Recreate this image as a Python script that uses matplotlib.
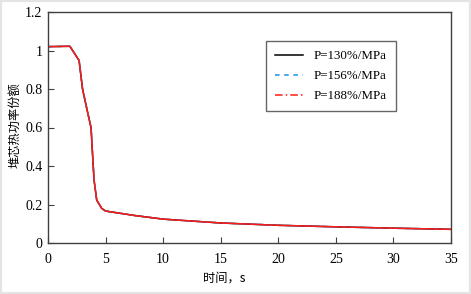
import matplotlib
matplotlib.use("Agg")
import matplotlib.pyplot as plt
from matplotlib.patches import Rectangle
from matplotlib.lines import Line2D

# Data (the three curves nearly coincide)
t = [0, 1.9, 2.7, 3.0, 3.4, 3.74, 3.85, 4.0, 4.23, 4.66, 5.0, 7.5, 10, 15, 20, 25, 30, 35]
p130 = [1.02, 1.022, 0.948, 0.80, 0.69, 0.599, 0.48, 0.327, 0.223, 0.180, 0.166, 0.143, 0.124, 0.104, 0.092, 0.084, 0.077, 0.071]
p156 = [1.02, 1.022, 0.948, 0.80, 0.69, 0.599, 0.48, 0.327, 0.223, 0.180, 0.166, 0.143, 0.124, 0.104, 0.092, 0.084, 0.077, 0.071]
p188 = [1.02, 1.022, 0.948, 0.80, 0.69, 0.599, 0.48, 0.327, 0.223, 0.180, 0.166, 0.143, 0.124, 0.104, 0.092, 0.084, 0.077, 0.071]
labels = ["P=130%/MPa", "P=156%/MPa", "P=188%/MPa"]
xticks = [0, 5, 10, 15, 20, 25, 30, 35]
yticks = [0, 0.2, 0.4, 0.6, 0.8, 1.0, 1.2]
yticklabels = ["0", "0.2", "0.4", "0.6", "0.8", "1", "1.2"]

serif = ["Liberation Serif", "DejaVu Serif"]
cjk = ["Noto Sans CJK SC", "DejaVu Sans"]

fig = plt.figure(figsize=(4.71, 2.94), dpi=100)
fig.patches.append(Rectangle((0, 0), 1, 1, transform=fig.transFigure, fill=False,
                             edgecolor="#e4e4e4", linewidth=3, zorder=10))
ax = fig.add_axes([48/471, 1 - 243/294, (451 - 48)/471, (243 - 12)/294])

ax.plot(t, p130, color="black", linewidth=1.1, linestyle="-", label=labels[0])
ax.plot(t, p156, color="#1f8fe0", linewidth=1.1, linestyle=(0, (3, 3)), label=labels[1])
ax.plot(t, p188, color="#ff1a1a", linewidth=1.1, linestyle="-", label=labels[2])

ax.set_xlim(0, 35)
ax.set_ylim(0, 1.2)
ax.set_xticks(xticks)
ax.set_yticks(yticks)
ax.set_yticklabels(yticklabels)
ax.tick_params(direction="in", length=4, width=0.8, top=False, right=False, color="#404040")
for lab in ax.get_xticklabels() + ax.get_yticklabels():
    lab.set_family(serif)
    lab.set_fontsize(10)
ax.tick_params(axis="x", pad=7)
ax.tick_params(axis="y", pad=4)
for s in ax.spines.values():
    s.set_color("#404040")
    s.set_linewidth(1.0)

ax.set_xlabel("时间，s", family=cjk, fontsize=8.8)
ax.xaxis.set_label_coords((224 - 48) / 403, -(272 - 243) / 231)
ax.set_ylabel("堆芯热功率份额", family=cjk, fontsize=8.8)
ax.yaxis.set_label_coords(-(48 - 21) / 403, 0.51)

handles = [Line2D([], [], color="black", linewidth=1.1),
           Line2D([], [], color="#1f8fe0", linewidth=1.1, linestyle=(0, (3, 3))),
           Line2D([], [], color="#ff1a1a", linewidth=1.1, linestyle=(0, (5, 2, 1, 2)))]
leg = ax.legend(handles, labels, loc="upper left", bbox_to_anchor=((266 - 48)/403, 1 - (41 - 12)/231),
                prop={"family": serif, "size": 9.3}, frameon=True, fancybox=False,
                edgecolor="#404040", handlelength=2.2, labelspacing=0.62, borderpad=0.7,
                handletextpad=0.8, borderaxespad=0)
leg.get_frame().set_linewidth(1.0)

fig.savefig("out.png", dpi=100)
